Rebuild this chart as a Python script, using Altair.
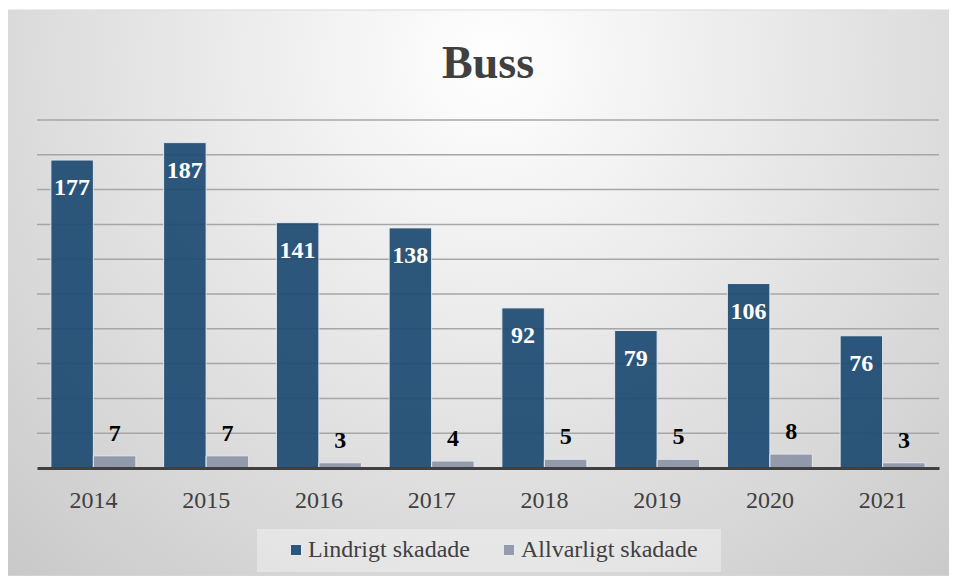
import altair as alt
import pandas as pd

# ---- data ----
years = ["2014", "2015", "2016", "2017", "2018", "2019", "2020", "2021"]
lindrigt = [177, 187, 141, 138, 92, 79, 106, 76]
allvarligt = [7, 7, 3, 4, 5, 5, 8, 3]
series = ["Lindrigt skadade", "Allvarligt skadade"]
grid_values = [20, 40, 60, 80, 100, 120, 140, 160, 180, 200]
colors = ["#1d4a72", "#8c95a8"]

rows = []
for yr, a, b in zip(years, lindrigt, allvarligt):
    rows.append({"year": yr, "serie": series[0], "value": a})
    rows.append({"year": yr, "serie": series[1], "value": b})
df = pd.DataFrame(rows)
grid_df = pd.DataFrame({"v": grid_values})
one = pd.DataFrame({"d": [0]})

W, H = 902, 348
FONT = "Liberation Serif"
TXT = "#404040"

yscale = alt.Scale(domain=[0, 200], nice=False, zero=True)
xscale = alt.Scale(paddingInner=0.246, paddingOuter=0.123)
offscale = alt.Scale(domain=series, paddingInner=0, paddingOuter=0)

# decorative background with radial gradient
bg = alt.Chart(one).mark_rect(
    fill=alt.RadialGradient(
        gradient="radial",
        stops=[alt.GradientStop(color="#ffffff", offset=0),
               alt.GradientStop(color="#c8c8c8", offset=1)],
        x1=0.513, y1=0.254, x2=0.513, y2=0.254, r1=0, r2=0.76),
    stroke="#d9d9d9", strokeWidth=1,
).encode(x=alt.value(-33), x2=alt.value(915), y=alt.value(-110), y2=alt.value(456))

# legend box
legbox = alt.Chart(one).mark_rect(fill="#ffffff", fillOpacity=0.35).encode(
    x=alt.value(220), x2=alt.value(684), y=alt.value(409), y2=alt.value(452))

grid = alt.Chart(grid_df).mark_rule(color="#a6a6a6", strokeWidth=1.5).encode(
    y=alt.Y("v:Q", scale=yscale, axis=None))

xenc = alt.X("year:N", sort=years, scale=xscale,
             axis=alt.Axis(title=None, labelAngle=0, labelFont=FONT, labelFontSize=24,
                           labelColor=TXT, ticks=False, tickSize=0, labelPadding=20,
                           domainColor=TXT, domainWidth=3, grid=False, zindex=1))

bars = alt.Chart(df).mark_bar(opacity=0.92, stroke="#e4eaf0", strokeWidth=1).encode(
    x=xenc,
    xOffset=alt.XOffset("serie:N", sort=series, scale=offscale),
    y=alt.Y("value:Q", scale=yscale, axis=None),
    color=alt.Color("serie:N", sort=series,
                    scale=alt.Scale(domain=series, range=colors),
                    legend=alt.Legend(title=None, orient="none", legendX=247, legendY=418,
                                      direction="horizontal", symbolType="square",
                                      symbolSize=121, symbolStrokeColor="#e4eaf0",
                                      symbolStrokeWidth=1, labelFont=FONT, labelFontSize=24,
                                      labelColor=TXT, labelOffset=0, columnPadding=27,
                                      labelLimit=400, padding=0)),
)

lab_l = alt.Chart(df).transform_filter(alt.datum.serie == series[0]).mark_text(
    font=FONT, fontSize=24, fontWeight="bold", color="#ffffff",
    baseline="alphabetic", dy=35).encode(
    x=alt.X("year:N", sort=years, scale=xscale),
    xOffset=alt.XOffset("serie:N", sort=series, scale=offscale),
    y=alt.Y("value:Q", scale=yscale, axis=None),
    text="value:Q")

lab_a = alt.Chart(df).transform_filter(alt.datum.serie == series[1]).mark_text(
    font=FONT, fontSize=24, fontWeight="bold", color="#000000",
    baseline="alphabetic", dy=-15).encode(
    x=alt.X("year:N", sort=years, scale=xscale),
    xOffset=alt.XOffset("serie:N", sort=series, scale=offscale),
    y=alt.Y("value:Q", scale=yscale, axis=None),
    text="value:Q")

chart = alt.layer(bg, legbox, grid, bars, lab_l, lab_a).properties(
    width=W, height=H,
    title=alt.TitleParams("Buss", font=FONT, fontSize=46, fontWeight="bold", color=TXT,
                          anchor="middle", frame="group", baseline="alphabetic",
                          offset=0, dy=114),
    padding={"left": 29, "top": 112, "right": 10, "bottom": 108},
    autosize=alt.AutoSizeParams(type="none"),
).configure_view(stroke=None).configure(background="#ffffff")

chart.save("out.html", embed_options={"renderer": "svg", "actions": False})
